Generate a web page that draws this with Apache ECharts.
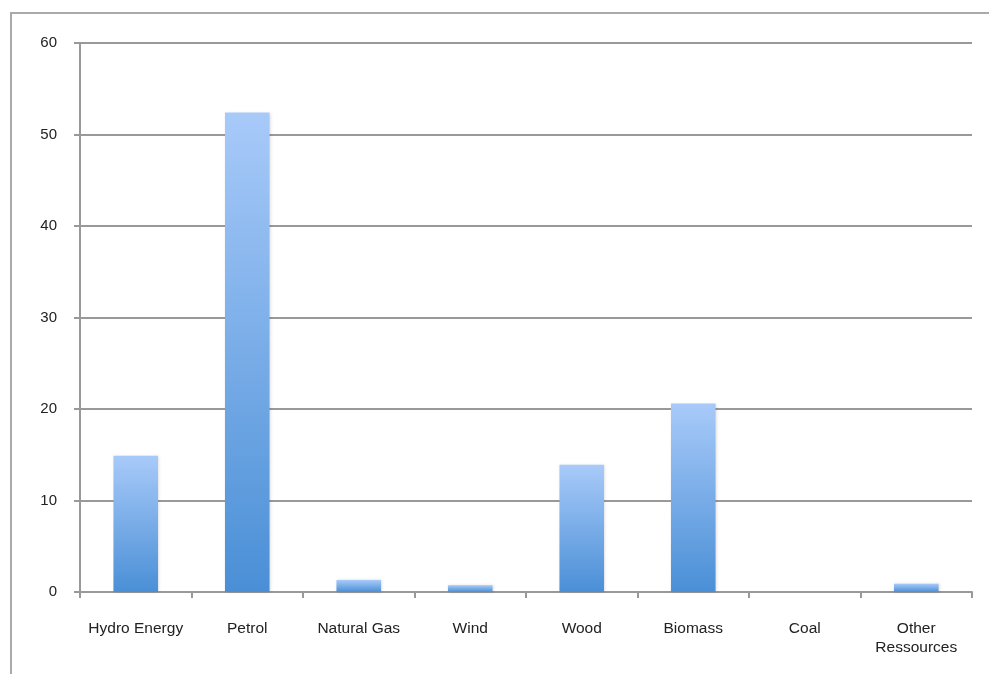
<!DOCTYPE html>
<html>
<head>
<meta charset="utf-8">
<script src="https://cdn.jsdelivr.net/npm/echarts@6/dist/echarts.min.js"></script>
<style>
html,body{margin:0;padding:0;background:#fff;}
#chart{width:989px;height:674px;}
</style>
</head>
<body>
<div id="chart"></div>
<script>
const categories = ["Hydro Energy","Petrol","Natural Gas","Wind","Wood","Biomass","Coal","Other\nRessources"];
const values = [14.9, 52.4, 1.3, 0.75, 13.9, 20.6, 0, 0.9];
const yTicks = [0,10,20,30,40,50,60];

const chart = echarts.init(document.getElementById('chart'));
chart.setOption({
  animation: false,
  backgroundColor: '#fff',
  textStyle: { fontFamily: 'Liberation Sans, Arial, sans-serif' },
  graphic: [{
    type: 'rect',
    shape: { x: 11, y: 13, width: 1100, height: 800 },
    style: { fill: 'none', stroke: '#aaaaaa', lineWidth: 2 },
    silent: true
  }],
  grid: { left: 80, right: 17, top: 43, bottom: 82, containLabel: false },
  xAxis: {
    type: 'category',
    data: categories,
    axisLine: { show: true, lineStyle: { color: '#999', width: 2 } },
    axisTick: { show: true, length: 6, interval: 0, lineStyle: { color: '#999', width: 2 } },
    axisLabel: { interval: 0, margin: 27, color: '#222', fontSize: 15.5, lineHeight: 19, fontFamily: 'Liberation Sans, Arial, sans-serif' }
  },
  yAxis: {
    type: 'value',
    min: yTicks[0],
    max: yTicks[yTicks.length - 1],
    interval: 10,
    axisLine: { show: true, lineStyle: { color: '#999', width: 2 } },
    axisTick: { show: true, length: 6, lineStyle: { color: '#999', width: 2 } },
    splitLine: { show: true, lineStyle: { color: '#999', width: 2 } },
    axisLabel: { margin: 23, color: '#222', fontSize: 15, fontFamily: 'Liberation Sans, Arial, sans-serif' }
  },
  series: [{
    type: 'bar',
    data: values,
    barWidth: '40%',
    itemStyle: {
      color: new echarts.graphic.LinearGradient(0, 0, 0, 1, [
        { offset: 0, color: '#a8caf9' },
        { offset: 1, color: '#4a8fd6' }
      ]),
      shadowColor: 'rgba(0,0,0,0.15)',
      shadowBlur: 3,
      shadowOffsetX: 1,
      shadowOffsetY: 0
    }
  }]
});
</script>
</body>
</html>
